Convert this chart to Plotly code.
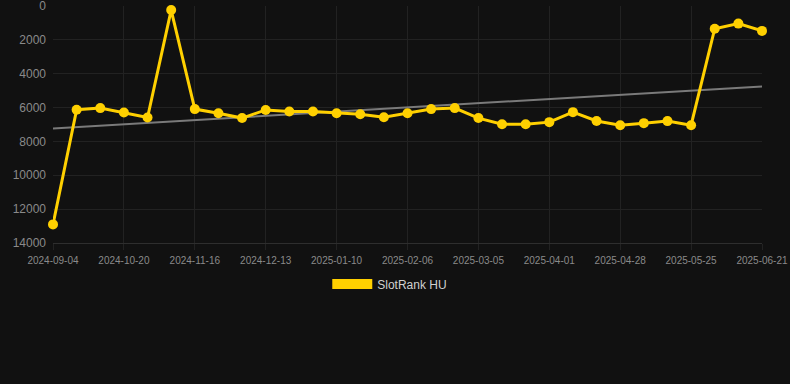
import numpy as np
import plotly.graph_objects as go

dates = [
    "2024-09-04", "2024-09-19", "2024-10-05", "2024-10-20", "2024-10-29", "2024-11-07",
    "2024-11-16", "2024-11-25", "2024-12-04", "2024-12-13", "2024-12-22", "2024-12-31",
    "2025-01-10", "2025-01-19", "2025-01-28", "2025-02-06", "2025-02-15", "2025-02-24",
    "2025-03-05", "2025-03-14", "2025-03-23", "2025-04-01", "2025-04-10", "2025-04-19",
    "2025-04-28", "2025-05-07", "2025-05-16", "2025-05-25", "2025-06-03", "2025-06-12",
    "2025-06-21",
]
rank = [
    12900, 6130, 6030, 6290, 6590, 240,
    6090, 6330, 6620, 6140, 6230, 6230,
    6330, 6390, 6570, 6330, 6090, 6030,
    6620, 6980, 6980, 6860, 6270, 6790,
    7040, 6920, 6800, 7040, 1340, 1040,
    1470,
]
tick_labels = dates[::3]
y_ticks = [0, 2000, 4000, 6000, 8000, 10000, 12000, 14000]
y_tick_text = [str(v) for v in y_ticks]
series_name = "SlotRank HU"

idx = np.arange(len(rank))
slope, intercept = np.polyfit(idx, rank, 1)
trend = (slope * idx + intercept).tolist()

fig = go.Figure()
fig.add_trace(go.Scatter(
    x=dates, y=trend, mode="lines",
    line=dict(color="#7a7a7a", width=2),
    showlegend=False, hoverinfo="skip",
))
fig.add_trace(go.Scatter(
    x=dates, y=rank, mode="lines+markers",
    line=dict(color="#FFD000", width=3),
    marker=dict(color="#FFD000", size=10),
    showlegend=False, name=series_name, cliponaxis=False,
))
fig.add_trace(go.Scatter(
    x=[None], y=[None], mode="lines",
    line=dict(color="#FFD000", width=12),
    name=series_name, showlegend=True,
))

fig.update_layout(
    width=790, height=384,
    margin=dict(l=53, r=28, t=6, b=141),
    paper_bgcolor="#111111", plot_bgcolor="#111111",
    font=dict(family="Liberation Sans, Arial, sans-serif", color="#8a8a8a"),
    showlegend=True,
    legend=dict(orientation="h", x=0.475, xanchor="center", y=-0.173, yanchor="middle",
                font=dict(size=12, color="#d0d0d0"), itemwidth=40),
    xaxis=dict(
        type="category", range=[0, len(dates) - 1],
        tickmode="array", tickvals=tick_labels, ticktext=tick_labels,
        tickfont=dict(size=10, color="#8a8a8a"),
        showgrid=True, gridcolor="#222222", gridwidth=1,
        showline=True, linecolor="#2e2e2e", linewidth=1,
        zeroline=False, ticks="outside", ticklen=6, tickcolor="#222222",
        ticklabelstandoff=2,
        ticklabeloverflow="allow", automargin=False,
    ),
    yaxis=dict(
        range=[14000, -1], tickmode="array", tickvals=y_ticks, ticktext=y_tick_text,
        tickfont=dict(size=12, color="#8a8a8a"),
        showgrid=True, gridcolor="#222222", gridwidth=1,
        zeroline=False, showline=False, ticks="", ticklabelstandoff=6,
        ticklabeloverflow="allow", automargin=False,
    ),
)

fig.write_html(
    "out.html",
    config={"displayModeBar": False},
    post_script="document.body.style.margin='0';document.body.style.background='#111111';",
)
